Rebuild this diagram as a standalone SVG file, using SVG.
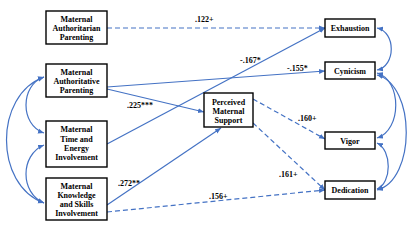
<svg xmlns="http://www.w3.org/2000/svg" width="411" height="225" viewBox="0 0 411 225">
<style>
.box{fill:#fff;stroke:#000;stroke-width:1.4}
.t{font-family:"Liberation Serif","Times New Roman",serif;font-weight:bold;font-size:8px;fill:#000;text-anchor:middle}
.l{font-family:"Liberation Serif","Times New Roman",serif;font-weight:bold;font-size:8px;fill:#000}
.c{fill:none;stroke:#4472C4;stroke-width:1.2}
.d{stroke-dasharray:5,3}
</style>
<defs>
<marker id="ah" markerUnits="userSpaceOnUse" markerWidth="6" markerHeight="6" refX="6" refY="3" orient="auto-start-reverse">
<path d="M0,0.5 L6,3 L0,5.5 z" fill="#4472C4"/>
</marker>
</defs>
<g id="connectors">
<path class="c d" d="M107,28 L325,28" marker-end="url(#ah)"/>
<path class="c" d="M107,87 L325,71" marker-end="url(#ah)"/>
<path class="c" d="M107,89 L204,112" marker-end="url(#ah)"/>
<path class="c" d="M107,144 L325,28" marker-end="url(#ah)"/>
<path class="c" d="M107,205 L221,128" marker-end="url(#ah)"/>
<path class="c d" d="M107,212 L325,190" marker-end="url(#ah)"/>
<path class="c d" d="M253,99 L325,139" marker-end="url(#ah)"/>
<path class="c d" d="M253,123 L325,190" marker-end="url(#ah)"/>
<path class="c" d="M44,77 C20,85 20,125 44,133" marker-start="url(#ah)" marker-end="url(#ah)"/>
<path class="c" d="M44,77 C-6,95 -6,185 44,203" marker-start="url(#ah)" marker-end="url(#ah)"/>
<path class="c" d="M44,145 C20,155 20,193 44,203" marker-start="url(#ah)" marker-end="url(#ah)"/>
<path class="c" d="M377,28 C396,32 396,66 377,70" marker-start="url(#ah)" marker-end="url(#ah)"/>
<path class="c" d="M377,73 C402,80 402,130 377,138" marker-start="url(#ah)" marker-end="url(#ah)"/>
<path class="c" d="M377,75 C416,85 416,180 377,190" marker-start="url(#ah)" marker-end="url(#ah)"/>
<path class="c" d="M377,143 C392,150 392,183 377,189" marker-start="url(#ah)" marker-end="url(#ah)"/>
<text class="l" x="195" y="22">.122+</text>
<text class="l" x="287" y="71">-.155*</text>
<text class="l" x="127" y="108">.225***</text>
<text class="l" x="240" y="63">-.167*</text>
<text class="l" x="118" y="186">.272**</text>
<text class="l" x="209" y="198.5">.156+</text>
<text class="l" x="298" y="121">.160+</text>
<text class="l" x="279" y="177">.161+</text>
</g>
<g id="authoritarian">
<rect class="box" x="46" y="11" width="61" height="33"/>
<text class="t" x="76.5" y="22">Maternal</text>
<text class="t" x="76.5" y="31">Authoritarian</text>
<text class="t" x="76.5" y="40">Parenting</text>
</g>
<g id="authoritative">
<rect class="box" x="46" y="64" width="61" height="33"/>
<text class="t" x="76.5" y="75">Maternal</text>
<text class="t" x="76.5" y="84">Authoritative</text>
<text class="t" x="76.5" y="93">Parenting</text>
</g>
<g id="timeEnergy">
<rect class="box" x="46" y="121" width="61" height="46"/>
<text class="t" x="76.5" y="132">Maternal</text>
<text class="t" x="76.5" y="141.5">Time and</text>
<text class="t" x="76.5" y="151">Energy</text>
<text class="t" x="76.5" y="160">Involvement</text>
</g>
<g id="knowledgeSkills">
<rect class="box" x="46" y="178" width="61" height="42"/>
<text class="t" x="76.5" y="189">Maternal</text>
<text class="t" x="76.5" y="198">Knowledge</text>
<text class="t" x="76.5" y="207">and Skills</text>
<text class="t" x="76.5" y="216">Involvement</text>
</g>
<g id="support">
<rect class="box" x="204" y="93" width="49" height="34"/>
<text class="t" x="228.5" y="105">Perceived</text>
<text class="t" x="228.5" y="114">Maternal</text>
<text class="t" x="228.5" y="123">Support</text>
</g>
<g id="exhaustion">
<rect class="box" x="325" y="19" width="50" height="18"/>
<text class="t" x="350" y="31">Exhaustion</text>
</g>
<g id="cynicism">
<rect class="box" x="325" y="62" width="50" height="17"/>
<text class="t" x="350" y="73.5">Cynicism</text>
</g>
<g id="vigor">
<rect class="box" x="325" y="132" width="50" height="17"/>
<text class="t" x="350" y="143.5">Vigor</text>
</g>
<g id="dedication">
<rect class="box" x="325" y="181" width="50" height="18"/>
<text class="t" x="350" y="193">Dedication</text>
</g>
</svg>
